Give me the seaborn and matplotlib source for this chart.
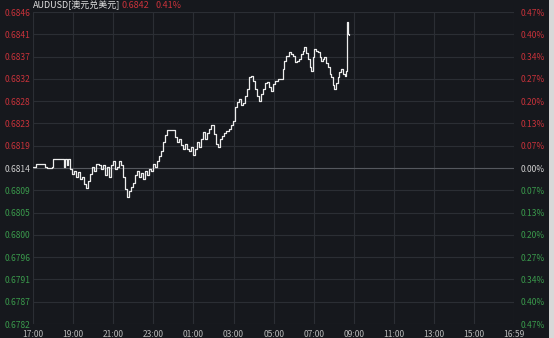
import matplotlib
matplotlib.use("Agg")
import matplotlib.pyplot as plt
import seaborn as sns
import pandas as pd
import numpy as np

# ---- data ----
minutes = [0, 9, 36, 42, 57, 60, 90, 93, 96, 102, 105, 111, 117, 123, 129, 135, 141, 147, 153, 159,
           165, 171, 177, 183, 189, 198, 204, 210, 216, 222, 228, 234, 240, 246, 252, 258, 264, 270, 276, 282,
           288, 294, 300, 306, 312, 318, 324, 330, 336, 342, 348, 354, 360, 366, 372, 378, 384, 390, 396, 402,
           420, 426, 432, 438, 444, 450, 456, 462, 468, 474, 480, 486, 492, 498, 504, 510, 516, 522, 528, 534,
           540, 546, 552, 558, 564, 570, 576, 585, 591, 597, 603, 609, 615, 621, 627, 633, 639, 645, 651, 657,
           663, 669, 675, 681, 687, 693, 699, 705, 711, 717, 723, 732, 741, 747, 750, 756, 765, 771, 777, 783,
           789, 795, 801, 807, 810, 816, 822, 828, 831, 837, 840, 846, 852, 858, 861, 867, 870, 876, 882, 888,
           891, 897, 900, 906, 912, 915, 921, 927, 933, 936, 939, 942, 945]
prices = [0.68142, 0.68148, 0.68142, 0.68140, 0.68142, 0.68158, 0.68158, 0.68142, 0.68158, 0.68146,
          0.68158, 0.68138, 0.68128, 0.68134, 0.68122, 0.68132, 0.68117, 0.68122, 0.68107, 0.68099,
          0.68113, 0.68128, 0.68142, 0.68134, 0.68148, 0.68146, 0.68138, 0.68146, 0.68126, 0.68142,
          0.68122, 0.68146, 0.68154, 0.68138, 0.68142, 0.68154, 0.68146, 0.68122, 0.68097, 0.68081,
          0.68093, 0.68101, 0.68109, 0.68126, 0.68134, 0.68122, 0.68130, 0.68117, 0.68134, 0.68126,
          0.68138, 0.68134, 0.68148, 0.68142, 0.68154, 0.68165, 0.68175, 0.68193, 0.68208, 0.68218,
          0.68218, 0.68204, 0.68193, 0.68199, 0.68187, 0.68179, 0.68189, 0.68179, 0.68175, 0.68183,
          0.68167, 0.68179, 0.68193, 0.68183, 0.68199, 0.68214, 0.68199, 0.68212, 0.68220, 0.68228,
          0.68210, 0.68189, 0.68183, 0.68199, 0.68206, 0.68212, 0.68216, 0.68220, 0.68228, 0.68236,
          0.68265, 0.68275, 0.68281, 0.68269, 0.68273, 0.68288, 0.68302, 0.68327, 0.68329, 0.68318,
          0.68302, 0.68288, 0.68277, 0.68292, 0.68302, 0.68314, 0.68316, 0.68306, 0.68298, 0.68312,
          0.68318, 0.68322, 0.68322, 0.68343, 0.68359, 0.68370, 0.68378, 0.68374, 0.68370, 0.68357,
          0.68359, 0.68363, 0.68374, 0.68380, 0.68388, 0.68376, 0.68363, 0.68347, 0.68339, 0.68368,
          0.68384, 0.68380, 0.68378, 0.68368, 0.68359, 0.68363, 0.68368, 0.68355, 0.68347, 0.68333,
          0.68327, 0.68310, 0.68302, 0.68314, 0.68327, 0.68337, 0.68343, 0.68333, 0.68329, 0.68339,
          0.68439, 0.68415, 0.68412]

prev_close = 0.6814
y_labels = ["0.6846", "0.6841", "0.6837", "0.6832", "0.6828", "0.6823", "0.6819", "0.6814",
            "0.6809", "0.6805", "0.6800", "0.6796", "0.6791", "0.6787", "0.6782"]
pct_labels = ["0.47%", "0.40%", "0.34%", "0.27%", "0.20%", "0.13%", "0.07%", "0.00%",
              "0.07%", "0.13%", "0.20%", "0.27%", "0.34%", "0.40%", "0.47%"]
x_tick_minutes = [0, 120, 240, 360, 480, 600, 720, 840, 960, 1080, 1200, 1320, 1439]
x_labels = ["17:00", "19:00", "21:00", "23:00", "01:00", "03:00", "05:00", "07:00",
            "09:00", "11:00", "13:00", "15:00", "16:59"]
title_name = "AUDUSD[澳元兑美元]"
last_price = "0.6842"
last_change = "0.41%"

# ---- style ----
sns.set_theme(style="dark")
plt.rcParams['font.family'] = ['Noto Sans CJK SC', 'DejaVu Sans']

BG = "#16181d"
GRID = "#2b2e34"
RED = "#c8323a"
GREEN = "#3a9a4c"
NEUTRAL = "#d0d0d0"
FS = 6.1

fig = plt.figure(figsize=(5.54, 3.38), dpi=100, facecolor=BG)
ax = fig.add_axes([33/554, 1 - 324/338, (514-33)/554, (324-12)/338])
ax.set_facecolor(BG)

df = pd.DataFrame({"minute": minutes, "price": prices})
sns.lineplot(data=df, x="minute", y="price", ax=ax, estimator=None, sort=False,
             color="#ececec", linewidth=0.9, drawstyle="steps-post")

n = len(y_labels)
half = (n - 1) // 2
span = 0.0032
tick_vals = [prev_close + span * (half - i) / half for i in range(n)]

ax.set_xlim(0, 1439)
ax.set_ylim(prev_close - span, prev_close + span)
ax.set_xticks(x_tick_minutes)
ax.set_xticklabels(x_labels)
ax.set_yticks(tick_vals)
ax.set_yticklabels(y_labels)
ax.set_xlabel("")
ax.set_ylabel("")

ax.grid(True, color=GRID, linewidth=0.8)
ax.axhline(prev_close, color="#55585e", linewidth=0.8, zorder=1)
for s in ax.spines.values():
    s.set_visible(False)

ax.tick_params(axis="y", length=0, pad=2, labelsize=FS)
ax.tick_params(axis="x", length=0, pad=4, labelsize=FS, colors="#b8b8b8")
for i, t in enumerate(ax.get_yticklabels()):
    t.set_color(RED if i < half else (GREEN if i > half else NEUTRAL))

ax2 = ax.twinx()
ax2.set_ylim(ax.get_ylim())
ax2.set_yticks(tick_vals)
ax2.set_yticklabels(pct_labels)
ax2.tick_params(axis="y", length=0, pad=5, labelsize=FS)
for i, t in enumerate(ax2.get_yticklabels()):
    t.set_color(RED if i < half else (GREEN if i > half else NEUTRAL))
for s in ax2.spines.values():
    s.set_visible(False)
ax2.grid(False)

# header
fig.text(33/554, 1 - 5/338, title_name, color="#e0e0e0", fontsize=6.5, va="center", ha="left")
fig.text(121/554, 1 - 5/338, last_price, color=RED, fontsize=6.5, va="center", ha="left")
fig.text(155/554, 1 - 5/338, last_change, color=RED, fontsize=6.5, va="center", ha="left")

# light strip at the right border
fig.patches.append(plt.Rectangle((549/554, 0), 5/554, 1, transform=fig.transFigure,
                                 facecolor="#d8d8d8", edgecolor="none"))

fig.savefig("out.png", dpi=100, facecolor=BG)
